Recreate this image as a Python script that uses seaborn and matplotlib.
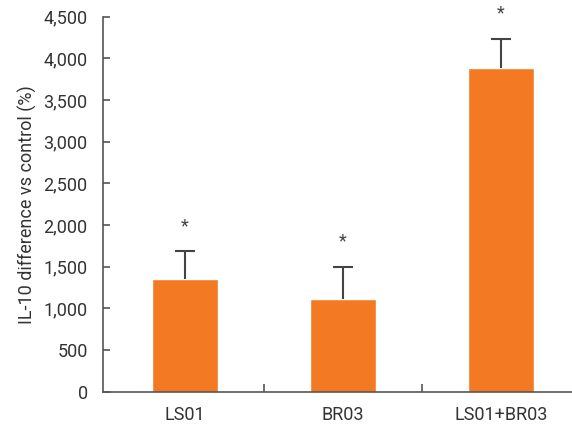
import seaborn as sns
import matplotlib.pyplot as plt
import pandas as pd
import numpy as np

# values
groups = ['LS01', 'BR03', 'LS01+BR03']
means = [1350, 1110, 3885]
upper_err = [340, 390, 350]          # one-sided (upper) error
star_offset = 300

df = pd.DataFrame({'group': groups, 'value': means})

sns.set_theme(style='ticks')
plt.rcParams['font.family'] = ['Roboto', 'DejaVu Sans']

fig = plt.figure(figsize=(5.72, 4.26), dpi=100)
ax = fig.add_axes([0.180, 0.0805, 0.82, 0.8805])

sns.barplot(df, x='group', y='value', color='#F37A22', saturation=1,
            width=0.42, errorbar=None, ax=ax)

x = np.arange(len(groups))
_, caps, _ = ax.errorbar(x, means, yerr=[np.zeros(len(means)), upper_err], fmt='none',
                         ecolor='#444444', elinewidth=1.5, capsize=7, capthick=1.5)
caps[0].set_visible(False)   # only the upper cap
for xi, m, e in zip(x, means, upper_err):
    ax.text(xi, m + e + star_offset, '*', ha='center', va='center',
            fontsize=13, color='#444444')

ax.set_ylim(0, 4500)
ax.set_yticks(range(0, 4501, 500))
ax.set_yticklabels([f'{v:,}' for v in range(0, 4501, 500)])
ax.set_xlim(-0.52, 2.45)
ax.set_xticks([0.5, 1.5], minor=True)
ax.set_xticks(x)
ax.set_xticklabels(groups)

ax.set_xlabel('')
ax.set_ylabel('IL-10 difference vs control (%)', fontsize=13, color='#333333', labelpad=5)

sns.despine(ax=ax, top=True, right=True)
for s in ['left', 'bottom']:
    ax.spines[s].set_color('#555555')
    ax.spines[s].set_linewidth(1.2)

ax.tick_params(axis='y', direction='in', length=5, width=1.2, color='#555555',
               labelsize=13, labelcolor='#333333', pad=11)
ax.tick_params(axis='x', which='major', length=0, labelsize=13,
               labelcolor='#333333', pad=10)
ax.tick_params(axis='x', which='minor', direction='in', length=6, width=1.2,
               color='#555555')

fig.savefig('out.png', dpi=100)
